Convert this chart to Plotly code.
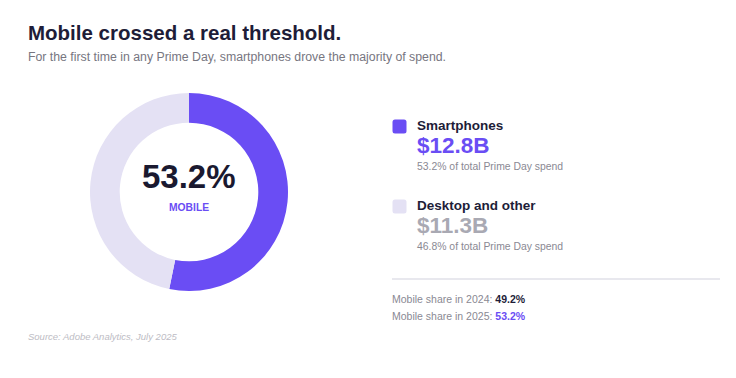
import plotly.graph_objects as go

# ---- data ----
segments = ["Smartphones", "Desktop and other"]
share_pct = [53.2, 46.8]
spend_bn = [12.8, 11.3]
colors = ["#6A4DF4", "#E4E1F4"]
value_colors = ["#6A4DF4", "#A9A9B3"]
years = [2024, 2025]
mobile_share = [49.2, 53.2]

W, H = 736, 378
FONT = "Liberation Sans, Arial, sans-serif"

def py(p):
    return 1 - p / H

def px(p):
    return p / W

fig = go.Figure()

cx, cy, r = 189, 192, 99
fig.add_trace(go.Pie(
    labels=segments, values=share_pct, sort=False, direction="clockwise",
    rotation=0, hole=0.70, marker=dict(colors=colors, line=dict(width=0)),
    textinfo="none", hoverinfo="label+percent", showlegend=False,
    domain=dict(x=[px(cx - r), px(cx + r)], y=[py(cy + r), py(cy - r)]),
))

ann = []
def add(text, x, y, size, color, bold=False, italic=False, xanchor="left"):
    t = f"<b>{text}</b>" if bold else text
    if italic:
        t = f"<i>{t}</i>"
    ann.append(dict(text=t, x=px(x), y=py(y), xref="paper", yref="paper",
                    xanchor=xanchor, yanchor="middle", showarrow=False,
                    font=dict(family=FONT, size=size, color=color)))

add("Mobile crossed a real threshold.", 26, 32, 20.5, "#1E1D38", bold=True)
add("For the first time in any Prime Day, smartphones drove the majority of spend.",
    26, 57.5, 12.3, "#77767F")

add(f"{share_pct[0]}%", cx, 176.5, 33, "#1A1930", bold=True, xanchor="center")
add("MOBILE", cx, 207, 10.3, "#6A4DF4", bold=True, xanchor="center")

shapes = []
row_y = [126.5, 206.5]
for i, seg in enumerate(segments):
    y0 = row_y[i]
    # label + value as one two-line text block
    ann.append(dict(
        text=(f"<b><span style='font-size:13.5px;color:#1E1D38'>{seg}</span></b><br>"
              f"<b><span style='font-size:22.5px;color:{value_colors[i]}'>${spend_bn[i]}B</span></b>"),
        x=px(415), y=py(y0 + 11.5), xref="paper", yref="paper", xanchor="left",
        yanchor="middle", align="left", showarrow=False,
        font=dict(family=FONT, size=18, color="#1E1D38")))
    add(f"{share_pct[i]}% of total Prime Day spend", 415, y0 + 40, 10.4, "#8A8993")
    # rounded square marker
    x0s, x1s = 392.5, 406.5
    top, bot = y0 - 7, y0 + 7
    rr = 2.5
    path = (f"M {px(x0s+rr)} {py(top)} L {px(x1s-rr)} {py(top)} Q {px(x1s)} {py(top)} {px(x1s)} {py(top+rr)} "
            f"L {px(x1s)} {py(bot-rr)} Q {px(x1s)} {py(bot)} {px(x1s-rr)} {py(bot)} "
            f"L {px(x0s+rr)} {py(bot)} Q {px(x0s)} {py(bot)} {px(x0s)} {py(bot-rr)} "
            f"L {px(x0s)} {py(top+rr)} Q {px(x0s)} {py(top)} {px(x0s+rr)} {py(top)} Z")
    shapes.append(dict(type="path", path=path, xref="paper", yref="paper",
                       fillcolor=colors[i], line=dict(width=0)))

shapes.append(dict(type="line", xref="paper", yref="paper", x0=px(392), x1=px(720),
                   y0=py(279), y1=py(279), line=dict(color="#E8E8EE", width=2)))

stat_y = [299, 315.5]
stat_val_colors = ["#1E1D38", "#6A4DF4"]
for i, yr in enumerate(years):
    ann.append(dict(
        text=f"Mobile share in {yr}: <b><span style='color:{stat_val_colors[i]}'>{mobile_share[i]}%</span></b>",
        x=px(390), y=py(stat_y[i]), xref="paper", yref="paper", xanchor="left",
        yanchor="middle", showarrow=False,
        font=dict(family=FONT, size=10.5, color="#8A8993")))

add("Source: Adobe Analytics, July 2025", 26, 336.5, 9.5, "#BDBCC4", italic=True)

fig.update_layout(
    width=W, height=H, margin=dict(l=0, r=0, t=0, b=0),
    paper_bgcolor="white", plot_bgcolor="white",
    annotations=ann, shapes=shapes, showlegend=False,
)

fig.write_html("out.html")
